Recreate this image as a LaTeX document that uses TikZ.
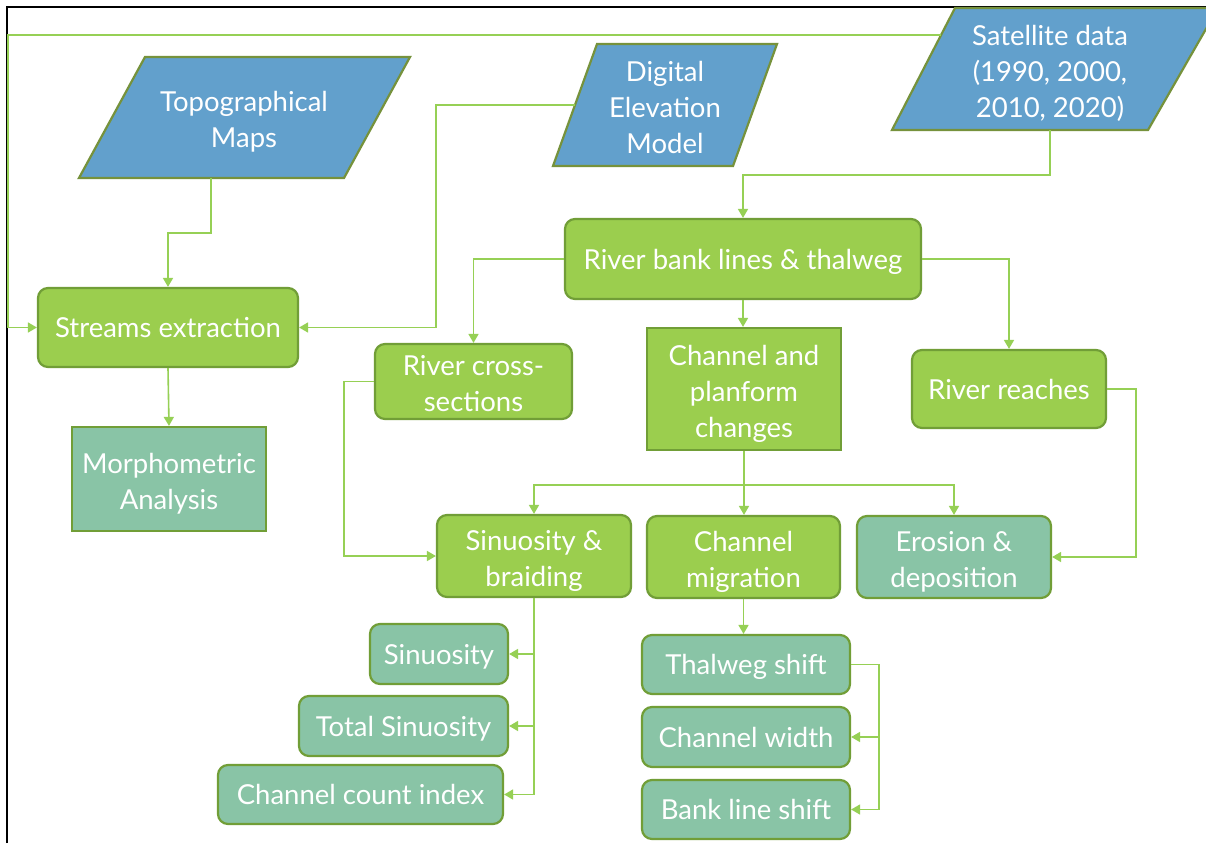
\documentclass[tikz,border=0pt]{standalone}
\usepackage{fontspec}
\setmainfont{Lato}
\usetikzlibrary{arrows.meta,calc}
\definecolor{bluefill}{RGB}{98,160,204}
\definecolor{paraborder}{RGB}{118,146,60}
\definecolor{gfill}{RGB}{155,206,78}
\definecolor{gborder}{RGB}{113,158,55}
\definecolor{tfill}{RGB}{137,196,166}
\definecolor{conncol}{RGB}{150,208,85}
\newcommand{\mlt}[1]{\raisebox{0pt}[\dimexpr\height+4pt\relax][\dimexpr\depth-6pt\relax]{\begin{tabular}{@{}c@{}}#1\end{tabular}}}
\begin{document}
\begin{tikzpicture}[x=1pt,y=-1pt,
  txt/.style={text=white,align=center,font=\fontsize{27.5}{36}\selectfont,inner sep=0pt,
    execute at begin node={\rule[-6pt]{0pt}{32pt}},
    execute at end node={\rule[-6pt]{0pt}{32pt}}},
  ml/.style={execute at begin node={},execute at end node={}},
  box/.style={txt,draw=gborder,line width=2.2pt},
  gbox/.style={box,fill=gfill,rounded corners=10pt},
  gsq/.style={box,fill=gfill},
  tbox/.style={box,fill=tfill,rounded corners=10pt},
  tsq/.style={box,fill=tfill},
  para/.style={fill=bluefill,draw=paraborder,line width=2.2pt,line join=miter},
  conn/.style={draw=conncol,line width=1.6pt,-{Triangle[length=9pt,width=10pt]}},
  line/.style={draw=conncol,line width=1.6pt}]
\useasboundingbox (0,0) rectangle (1206,843);
\fill[white] (0,0) rectangle (1206,843);
% frame
\draw[black,line width=1.5pt] (7,843) -- (7,7) -- (1206,7);

% parallelograms
\draw[para] (145,57) -- (410,57) -- (344,178) -- (79,178) -- cycle;
\node[txt,ml] (topo) at (244,117.5) {\mlt{Topographical\\Maps}};
\draw[para] (597,44) -- (777,44) -- (733,166) -- (553,166) -- cycle;
\node[txt,ml] (dem) at (665,105) {\mlt{Digital\\Elevation\\Model}};
\draw[para] (955,8) -- (1218,8) -- (1148,130) -- (892,130) -- cycle;
\node[txt,ml] (sat) at (1050,69) {\mlt{Satellite data\\(1990, 2000,\\2010, 2020)}};
\coordinate (topoB) at (211,178);
\coordinate (demL) at (575,105);
\coordinate (satL) at (941,35);
\coordinate (satB) at (1050,130);
\coordinate (leftTop) at (8,35);

% boxes
\node[gbox,minimum width=260pt,minimum height=79pt] (streams) at (168,327.5) {Streams extraction};
\node[tsq,ml,minimum width=194pt,minimum height=104pt] (morph) at (169,479) {\mlt{Morphometric\\Analysis}};
\node[gbox,minimum width=356pt,minimum height=80pt] (rivbank) at (743,259) {River bank lines \& thalweg};
\node[gbox,ml,minimum width=197pt,minimum height=75pt] (cross) at (473.5,381.5) {\mlt{River cross-\\sections}};
\node[gsq,ml,minimum width=194pt,minimum height=122pt] (chan) at (744,389) {\mlt{Channel and\\planform\\changes}};
\node[gbox,minimum width=194pt,minimum height=78pt] (reaches) at (1009,389) {River reaches};
\node[gbox,ml,minimum width=194pt,minimum height=82pt] (sinbr) at (534,556) {\mlt{Sinuosity \&\\braiding}};
\node[gbox,ml,minimum width=193pt,minimum height=82pt] (migr) at (743.5,557) {\mlt{Channel\\migration}};
\node[tbox,ml,minimum width=194pt,minimum height=82pt] (eros) at (954,557) {\mlt{Erosion \&\\deposition}};
\node[tbox,minimum width=138pt,minimum height=60pt] (sin) at (439,654) {Sinuosity};
\node[tbox,minimum width=209pt,minimum height=60pt] (tot) at (403.5,726) {Total Sinuosity};
\node[tbox,minimum width=285pt,minimum height=59pt] (cci) at (360.5,794.5) {Channel count index};
\node[tbox,minimum width=208pt,minimum height=59pt] (thal) at (746,664.5) {Thalweg shift};
\node[tbox,minimum width=208pt,minimum height=60pt] (cw) at (746,737) {Channel width};
\node[tbox,minimum width=208pt,minimum height=59pt] (bls) at (746,809.5) {Bank line shift};

% connectors
\draw[conn] (topoB) -- ++(0,55) -| (streams.north);
\draw[conn] (satL) -- (leftTop) |- (streams.west);
\draw[conn] (demL) -- ++(-139,0) |- (streams.east);
\draw[conn] (streams.south) -- (morph.north);
\draw[conn] (satB) -- ++(0,45) -| (rivbank.north);
\draw[conn] (rivbank.west) -| (cross.north);
\draw[conn] (rivbank.south) -- (rivbank.south |- chan.north);
\draw[conn] (rivbank.east) -| (reaches.north);
\draw[conn] (reaches.east) -- ++(29,0) |- (eros.east);
\draw[conn] (cross.west) -- ++(-30,0) |- (sinbr.west);
\coordinate (split) at ($(chan.south)+(0,34)$);
\draw[line] (chan.south) -- (split);
\draw[conn] (split) -| (sinbr.north);
\draw[conn] (split) -| (eros.north);
\draw[conn] (split) -- (split |- migr.north);
\draw[conn] (sinbr.south) |- (cci.east);
\draw[conn] (sinbr.south |- sin.east) -- (sin.east);
\draw[conn] (sinbr.south |- tot.east) -- (tot.east);
\draw[conn] (migr.south) -- (migr.south |- thal.north);
\coordinate (tr) at ($(thal.east)+(28,0)$);
\draw[conn] (thal.east) -- (tr) |- (bls.east);
\draw[conn] (tr |- cw.east) -- (cw.east);
\end{tikzpicture}
\end{document}
